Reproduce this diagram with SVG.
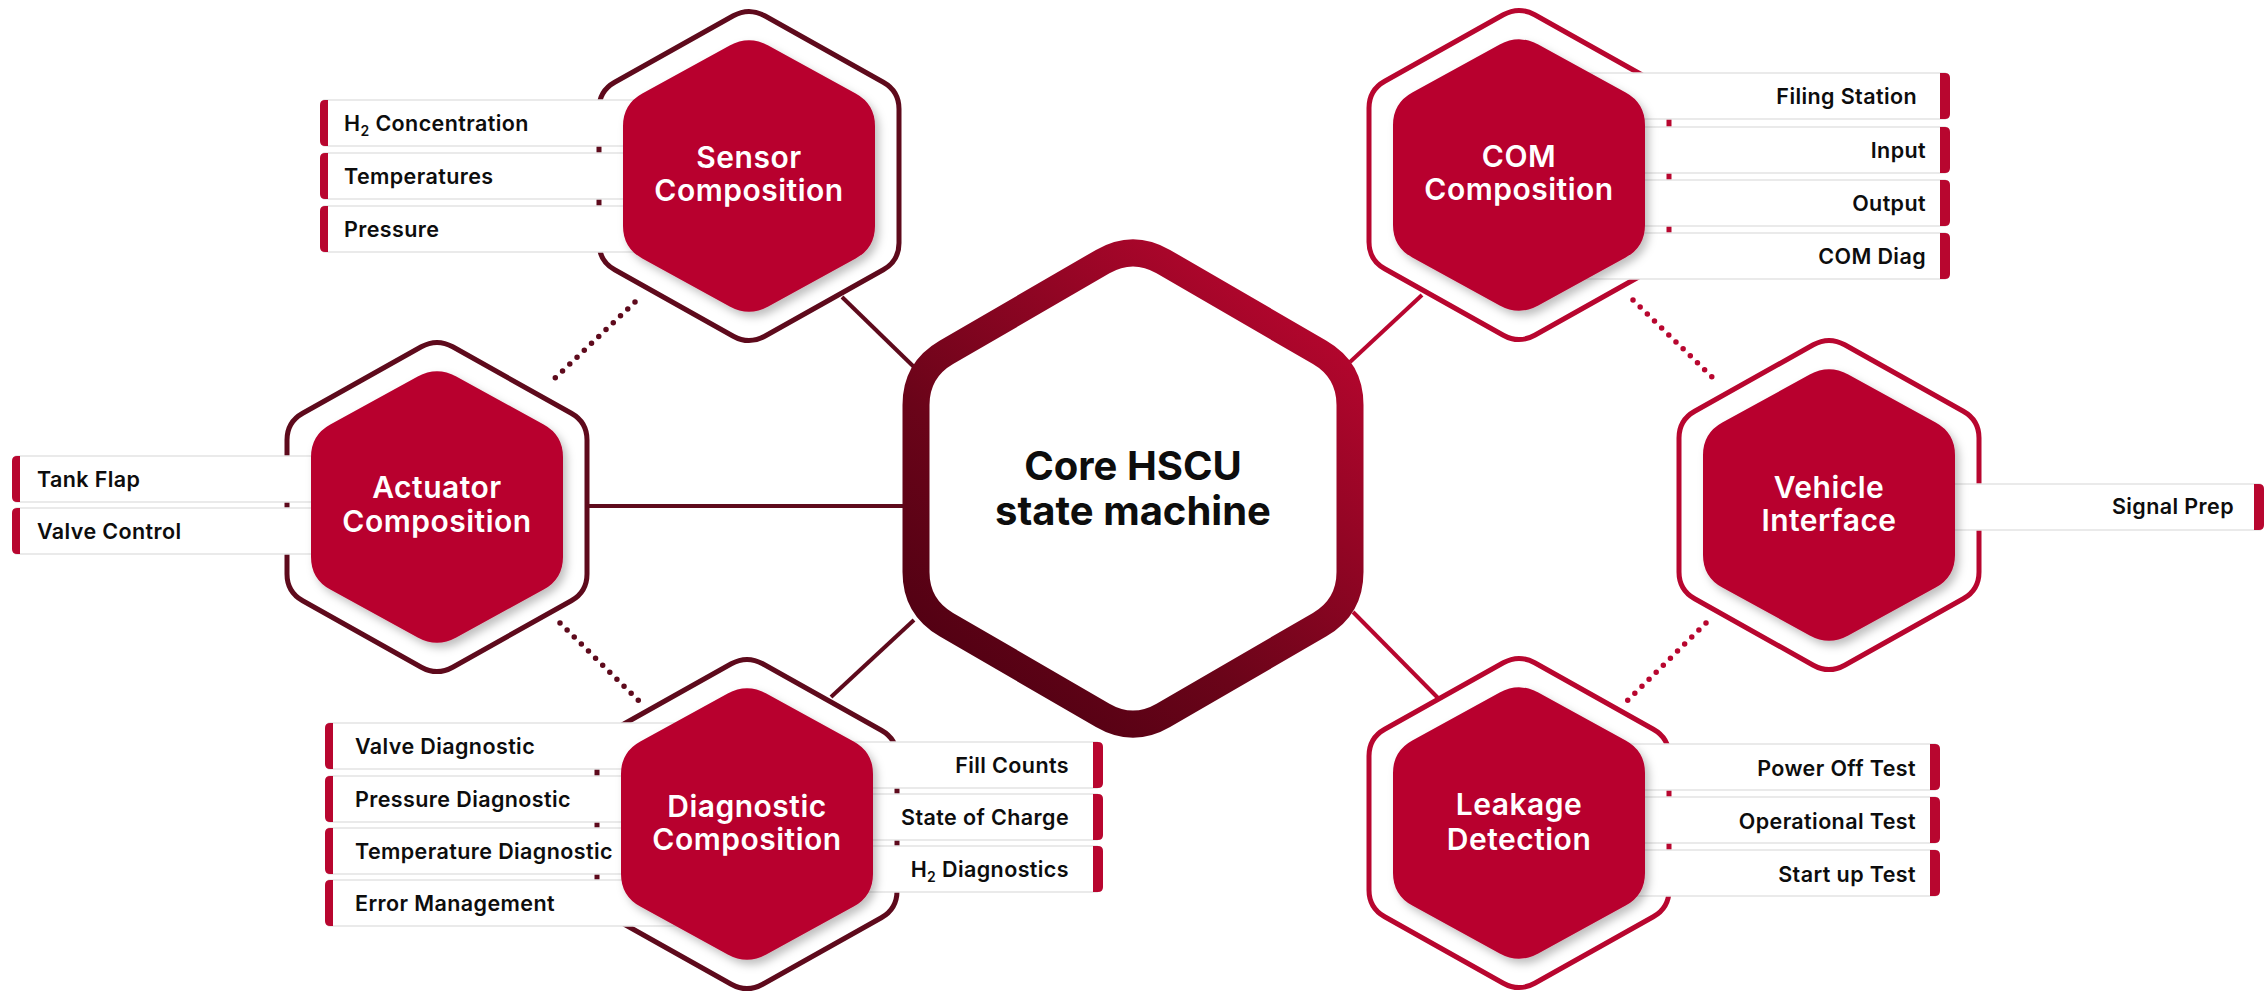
<svg xmlns="http://www.w3.org/2000/svg" xmlns:xlink="http://www.w3.org/1999/xlink" width="2267" height="994" viewBox="0 0 2267 994">
<defs>
<style>
.oh-d{fill:none;stroke:#5e0a1c;stroke-width:5}
.oh-c{fill:none;stroke:#b8062f;stroke-width:5}
.ih{fill:#b8062f;filter:url(#sh)}
.ht{font-family:Inter,'Liberation Sans',sans-serif;font-weight:600;font-size:30px;letter-spacing:0.5px;fill:#ffffff;text-anchor:middle}
.bt{font-family:Inter,'Liberation Sans',sans-serif;font-weight:600;font-size:21.5px;letter-spacing:0.4px;fill:#0d0d0d}
.end{text-anchor:end}
.sub{font-size:14px}
.box{fill:#ffffff;stroke:#e3e3e3;stroke-width:1.5}
.bar{fill:#b8062f}
.ln-d{stroke:#5e0a1c;stroke-width:4;fill:none}
.ln-c{stroke:#b8062f;stroke-width:4;fill:none}
.dot-d{stroke:#5e0a1c;stroke-width:5.5;stroke-linecap:round;stroke-dasharray:0 10;fill:none}
.dot-c{stroke:#b8062f;stroke-width:5.5;stroke-linecap:round;stroke-dasharray:0 10;fill:none}
.core-t{font-family:Inter,'Liberation Sans',sans-serif;font-weight:700;font-size:40px;fill:#0d0d0d;text-anchor:middle}
</style>
<filter id="sh" x="-20%" y="-20%" width="150%" height="150%">
<feDropShadow dx="4" dy="5" stdDeviation="4" flood-color="#000000" flood-opacity="0.25"/>
</filter>
<linearGradient id="coreg" gradientUnits="userSpaceOnUse" x1="950" y1="700" x2="1320" y2="280">
<stop offset="0" stop-color="#4e0012"/>
<stop offset="0.35" stop-color="#6a0419"/>
<stop offset="1" stop-color="#ba062f"/>
</linearGradient>
<path id="outer" d="M -15.7,-160.2 Q 0,-169 15.7,-160.2 L 134.3,-93.8 Q 150,-85 150,-67 L 150,67 Q 150,85 134.3,93.8 L 15.7,160.2 Q 0,169 -15.7,160.2 L -134.3,93.8 Q -150,85 -150,67 L -150,-67 Q -150,-85 -134.3,-93.8 Z"/>
<path id="inner" d="M -19.3,-130.4 Q 0,-141 19.3,-130.4 L 106.7,-82.6 Q 126,-72 126,-50 L 126,50 Q 126,72 106.7,82.6 L 19.3,130.4 Q 0,141 -19.3,130.4 L -106.7,82.6 Q -126,72 -126,50 L -126,-50 Q -126,-72 -106.7,-82.6 Z"/>
<path id="lbar" d="M8,0 H5 Q0,0 0,5 V41 Q0,46 5,46 H8 Z"/>
<path id="rbar" d="M0,0 H5 Q10,0 10,5 V41 Q10,46 5,46 H0 Z"/>
</defs>
<rect x="0" y="0" width="2267" height="994" fill="#ffffff"/>

<g id="connectors">
<line class="ln-d" x1="842" y1="297" x2="914" y2="367"/>
<line class="ln-d" x1="586" y1="506" x2="910" y2="506"/>
<line class="ln-d" x1="831" y1="697" x2="914" y2="620"/>
<line class="ln-c" x1="1422" y1="295" x2="1350" y2="362"/>
<line class="ln-c" x1="1353" y1="612" x2="1438" y2="698"/>
<line class="dot-d" x1="635" y1="302" x2="553" y2="380"/>
<line class="dot-d" x1="560" y1="623" x2="640" y2="702"/>
<line class="dot-c" x1="1633" y1="300" x2="1712" y2="377"/>
<line class="dot-c" x1="1706" y1="623" x2="1626" y2="702"/>
</g>

<g id="core">
<path d="M 1102.7,261.6 Q 1133,244 1163.3,261.6 L 1319.7,352.4 Q 1350,370 1350,405 L 1350,572 Q 1350,607 1319.7,624.6 L 1163.3,715.4 Q 1133,733 1102.7,715.4 L 946.3,624.6 Q 916,607 916,572 L 916,405 Q 916,370 946.3,352.4 Z" fill="#ffffff" stroke="url(#coreg)" stroke-width="27"/>
<text class="core-t" x="1133" y="480">Core HSCU</text>
<text class="core-t" x="1133" y="525">state machine</text>
</g>

<g id="sensor">
<use xlink:href="#outer" href="#outer" transform="translate(749,176)" class="oh-d"/>
<rect class="box" x="324" y="100" width="340" height="46"/>
<rect class="box" x="324" y="153" width="340" height="46"/>
<rect class="box" x="324" y="206" width="340" height="46"/>
<use xlink:href="#lbar" href="#lbar" x="320" y="100" class="bar"/>
<use xlink:href="#lbar" href="#lbar" x="320" y="153" class="bar"/>
<use xlink:href="#lbar" href="#lbar" x="320" y="206" class="bar"/>
<text class="bt" x="344" y="131">H<tspan class="sub" dy="5">2</tspan><tspan dy="-5"> Concentration</tspan></text>
<text class="bt" x="344" y="184">Temperatures</text>
<text class="bt" x="344" y="237">Pressure</text>
<use xlink:href="#inner" href="#inner" transform="translate(749,176)" class="ih"/>
<text class="ht" x="749" y="168">Sensor</text>
<text class="ht" x="749" y="201">Composition</text>
</g>

<g id="actuator">
<use xlink:href="#outer" href="#outer" transform="translate(437,507)" class="oh-d"/>
<rect class="box" x="16" y="456" width="330" height="46"/>
<rect class="box" x="16" y="508" width="330" height="46"/>
<use xlink:href="#lbar" href="#lbar" x="12" y="456" class="bar"/>
<use xlink:href="#lbar" href="#lbar" x="12" y="508" class="bar"/>
<text class="bt" x="37" y="487">Tank Flap</text>
<text class="bt" x="37" y="539">Valve Control</text>
<use xlink:href="#inner" href="#inner" transform="translate(437,507)" class="ih"/>
<text class="ht" x="437" y="498">Actuator</text>
<text class="ht" x="437" y="532">Composition</text>
</g>

<g id="diagnostic">
<use xlink:href="#outer" href="#outer" transform="translate(747,824)" class="oh-d"/>
<rect class="box" x="329" y="723" width="380" height="46"/>
<rect class="box" x="329" y="776" width="380" height="46"/>
<rect class="box" x="329" y="828" width="380" height="46"/>
<rect class="box" x="329" y="880" width="380" height="46"/>
<use xlink:href="#lbar" href="#lbar" x="325" y="723" class="bar"/>
<use xlink:href="#lbar" href="#lbar" x="325" y="776" class="bar"/>
<use xlink:href="#lbar" href="#lbar" x="325" y="828" class="bar"/>
<use xlink:href="#lbar" href="#lbar" x="325" y="880" class="bar"/>
<text class="bt" x="355" y="754">Valve Diagnostic</text>
<text class="bt" x="355" y="807">Pressure Diagnostic</text>
<text class="bt" x="355" y="859">Temperature Diagnostic</text>
<text class="bt" x="355" y="911">Error Management</text>
<rect class="box" x="800" y="742" width="297" height="46"/>
<rect class="box" x="800" y="794" width="297" height="46"/>
<rect class="box" x="800" y="846" width="297" height="46"/>
<use xlink:href="#rbar" href="#rbar" x="1093" y="742" class="bar"/>
<use xlink:href="#rbar" href="#rbar" x="1093" y="794" class="bar"/>
<use xlink:href="#rbar" href="#rbar" x="1093" y="846" class="bar"/>
<text class="bt end" x="1069" y="773">Fill Counts</text>
<text class="bt end" x="1069" y="825">State of Charge</text>
<text class="bt end" x="1069" y="877">H<tspan class="sub" dy="5">2</tspan><tspan dy="-5"> Diagnostics</tspan></text>
<use xlink:href="#inner" href="#inner" transform="translate(747,824)" class="ih"/>
<text class="ht" x="747" y="817">Diagnostic</text>
<text class="ht" x="747" y="850">Composition</text>
</g>

<g id="com">
<use xlink:href="#outer" href="#outer" transform="translate(1519,175)" class="oh-c"/>
<rect class="box" x="1560" y="73" width="385" height="46"/>
<rect class="box" x="1560" y="127" width="385" height="46"/>
<rect class="box" x="1560" y="180" width="385" height="46"/>
<rect class="box" x="1560" y="233" width="385" height="46"/>
<use xlink:href="#rbar" href="#rbar" x="1940" y="73" class="bar"/>
<use xlink:href="#rbar" href="#rbar" x="1940" y="127" class="bar"/>
<use xlink:href="#rbar" href="#rbar" x="1940" y="180" class="bar"/>
<use xlink:href="#rbar" href="#rbar" x="1940" y="233" class="bar"/>
<text class="bt end" x="1917" y="104">Filing Station</text>
<text class="bt end" x="1926" y="158">Input</text>
<text class="bt end" x="1926" y="211">Output</text>
<text class="bt end" x="1926" y="264">COM Diag</text>
<use xlink:href="#inner" href="#inner" transform="translate(1519,175)" class="ih"/>
<text class="ht" x="1519" y="167">COM</text>
<text class="ht" x="1519" y="200">Composition</text>
</g>

<g id="vehicle">
<use xlink:href="#outer" href="#outer" transform="translate(1829,505)" class="oh-c"/>
<rect class="box" x="1880" y="484" width="380" height="46"/>
<use xlink:href="#rbar" href="#rbar" x="2254" y="484" class="bar"/>
<text class="bt end" x="2234" y="514">Signal Prep</text>
<use xlink:href="#inner" href="#inner" transform="translate(1829,505)" class="ih"/>
<text class="ht" x="1829" y="498">Vehicle</text>
<text class="ht" x="1829" y="531">Interface</text>
</g>

<g id="leakage">
<use xlink:href="#outer" href="#outer" transform="translate(1519,823)" class="oh-c"/>
<rect class="box" x="1560" y="744" width="375" height="46"/>
<rect class="box" x="1560" y="797" width="375" height="46"/>
<rect class="box" x="1560" y="850" width="375" height="46"/>
<use xlink:href="#rbar" href="#rbar" x="1930" y="744" class="bar"/>
<use xlink:href="#rbar" href="#rbar" x="1930" y="797" class="bar"/>
<use xlink:href="#rbar" href="#rbar" x="1930" y="850" class="bar"/>
<text class="bt end" x="1916" y="776">Power Off Test</text>
<text class="bt end" x="1916" y="829">Operational Test</text>
<text class="bt end" x="1916" y="882">Start up Test</text>
<use xlink:href="#inner" href="#inner" transform="translate(1519,823)" class="ih"/>
<text class="ht" x="1519" y="815">Leakage</text>
<text class="ht" x="1519" y="850">Detection</text>
</g>
</svg>
